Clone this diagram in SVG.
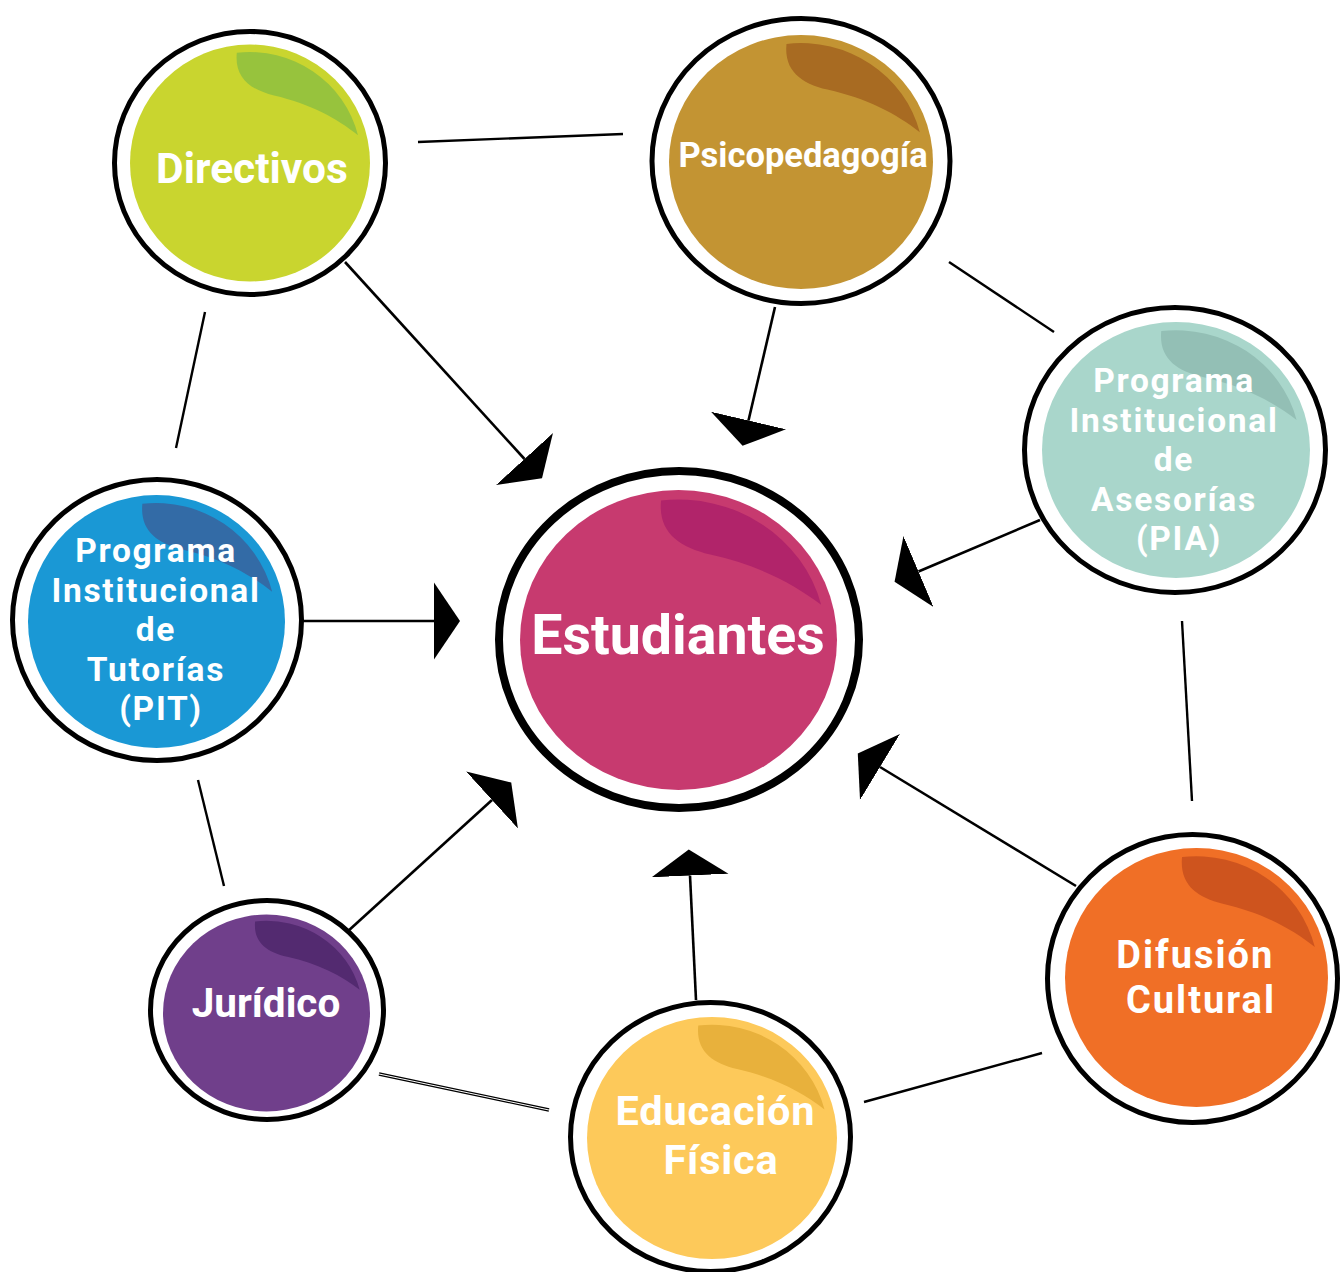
<svg xmlns="http://www.w3.org/2000/svg" width="1341" height="1272" viewBox="0 0 1341 1272">
  <style>
    .link { stroke: #000; stroke-width: 2.4; fill: none; stroke-linecap: butt; }
    .arrow { stroke: #000; stroke-width: 2.6; fill: none; marker-end: url(#head); }
    .ring { fill: #fff; stroke: #000; stroke-width: 5; }
    .ring-main { fill: #fff; stroke: #000; stroke-width: 8; }
    .label { fill: #fff; font-family: Roboto, "Open Sans", "Liberation Sans", sans-serif; font-weight: 700; text-anchor: middle; }
    .stack { font-size: 33.5px; letter-spacing: 1.7px; }
  </style>
  <defs>
    <marker id="head" markerUnits="userSpaceOnUse" markerWidth="30" markerHeight="80" viewBox="0 -40 30 80" refX="0" refY="0" orient="auto">
      <path d="M0,-38.5 L26,0 L0,38.5 Z" fill="#000"/>
    </marker>
    <!-- highlight drawn in unit-circle coordinates, scaled per node -->
    <path id="leaf" d="M -0.11,-0.93 C -0.13,-0.72 0.0,-0.62 0.2,-0.57 C 0.5,-0.5 0.72,-0.38 0.9,-0.235 A 0.93 0.93 0 0 0 -0.11,-0.93 Z"/>
  </defs>

  <rect width="1341" height="1272" fill="#fff"/>

  <g id="connectors">
    <!-- plain links between outer nodes -->
    <line class="link" x1="418" y1="142" x2="623" y2="134"/>
    <line class="link" x1="949" y1="262" x2="1054" y2="332"/>
    <line class="link" x1="1182" y1="621" x2="1192" y2="801"/>
    <line class="link" x1="1042" y1="1053" x2="864" y2="1102"/>
    <line x1="379" y1="1074" x2="549" y2="1110" stroke="#000" stroke-width="3.4"/>
    <line x1="379" y1="1074" x2="549" y2="1110" stroke="#fff" stroke-width="1"/>
    <line class="link" x1="198" y1="780" x2="224" y2="886"/>
    <line class="link" x1="176" y1="448" x2="205" y2="312"/>
    <!-- arrows into the centre -->
    <line class="arrow" x1="345" y1="262" x2="524.5" y2="459"/>
    <line class="arrow" x1="775" y1="307" x2="748.5" y2="420.5"/>
    <line class="arrow" x1="1040" y1="520" x2="918.5" y2="571.5"/>
    <line class="arrow" x1="303" y1="621" x2="434" y2="621"/>
    <line class="arrow" x1="347" y1="932" x2="492" y2="800"/>
    <line class="arrow" x1="696" y1="1000" x2="690" y2="875.5"/>
    <line class="arrow" x1="1076" y1="886" x2="880" y2="767"/>
  </g>

  <g id="node-directivos">
    <ellipse class="ring" cx="250" cy="163" rx="135.5" ry="131.5"/>
    <ellipse cx="250" cy="163" rx="120" ry="118.5" fill="#C9D52F"/>
    <use href="#leaf" fill="#97C33D" transform="translate(250,163) scale(120,118.5)"/>
    <text class="label" x="252" y="183" font-size="42.5">Directivos</text>
  </g>

  <g id="node-psicopedagogia">
    <ellipse class="ring" cx="801" cy="161" rx="149" ry="142.5"/>
    <ellipse cx="801" cy="162" rx="132" ry="127" fill="#C39433"/>
    <use href="#leaf" fill="#A86B22" transform="translate(801,162) scale(132,127)"/>
    <text class="label" x="803" y="167" font-size="34.5">Psicopedagogía</text>
  </g>

  <g id="node-pia">
    <ellipse class="ring" cx="1175" cy="450" rx="150.5" ry="142.5"/>
    <ellipse cx="1176" cy="450" rx="134" ry="128" fill="#A9D6CB"/>
    <use href="#leaf" fill="#93BFB5" transform="translate(1176,450) scale(134,128)"/>
    <text class="label stack" x="1179">
      <tspan x="1179" y="392">Programa</tspan>
      <tspan x="1179" y="431.5">Institucional</tspan>
      <tspan x="1179" y="471">de</tspan>
      <tspan x="1179" y="510.5">Asesorías</tspan>
      <tspan x="1179" y="550">(PIA)</tspan>
    </text>
  </g>

  <g id="node-pit">
    <ellipse class="ring" cx="157" cy="620" rx="144.5" ry="140.5"/>
    <ellipse cx="156.5" cy="621.5" rx="128.5" ry="126.5" fill="#1A98D5"/>
    <use href="#leaf" fill="#336BA6" transform="translate(156.5,621.5) scale(128.5,126.5)"/>
    <text class="label stack" x="161">
      <tspan x="161" y="562">Programa</tspan>
      <tspan x="161" y="602">Institucional</tspan>
      <tspan x="161" y="641">de</tspan>
      <tspan x="161" y="681">Tutorías</tspan>
      <tspan x="161" y="720">(PIT)</tspan>
    </text>
  </g>

  <g id="node-estudiantes">
    <ellipse class="ring-main" cx="679" cy="639.5" rx="180" ry="168.5"/>
    <ellipse cx="678.5" cy="640" rx="158.5" ry="150" fill="#C73A6F"/>
    <use href="#leaf" fill="#B1246A" transform="translate(678.5,640) scale(158.5,150)"/>
    <text class="label" x="678" y="654" font-size="55.5">Estudiantes</text>
  </g>

  <g id="node-juridico">
    <ellipse class="ring" cx="267" cy="1010" rx="116.5" ry="109.5"/>
    <ellipse cx="266.5" cy="1013" rx="103.5" ry="98.5" fill="#703F8B"/>
    <use href="#leaf" fill="#532A70" transform="translate(266.5,1013) scale(103.5,98.5)"/>
    <text class="label" x="266" y="1017" font-size="40.5">Jurídico</text>
  </g>

  <g id="node-educacion">
    <ellipse class="ring" cx="710.5" cy="1137" rx="140" ry="134.5"/>
    <ellipse cx="712" cy="1138" rx="125" ry="121" fill="#FDC95A"/>
    <use href="#leaf" fill="#E8B13C" transform="translate(712,1138) scale(125,121)"/>
    <text class="label" x="721" font-size="41.5" letter-spacing="0.8">
      <tspan x="721" y="1125">Educación</tspan>
      <tspan x="721" y="1174">Física</tspan>
    </text>
  </g>

  <g id="node-difusion">
    <ellipse class="ring" cx="1192.5" cy="978.5" rx="145" ry="144"/>
    <ellipse cx="1196.5" cy="977.5" rx="131.5" ry="129.5" fill="#F06F26"/>
    <use href="#leaf" fill="#CE541E" transform="translate(1196.5,977.5) scale(131.5,129.5)"/>
    <text class="label" x="1201" font-size="38" letter-spacing="2">
      <tspan x="1201" y="968">Difusión</tspan>
      <tspan x="1201" y="1013">Cultural</tspan>
    </text>
  </g>
</svg>
